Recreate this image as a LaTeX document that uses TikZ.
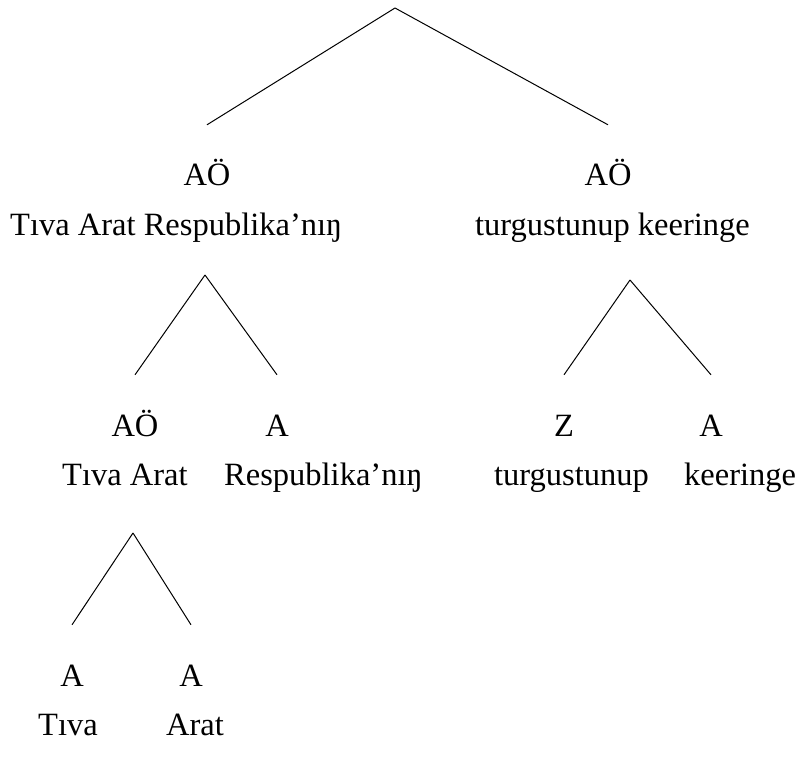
\documentclass[tikz,border=0pt]{standalone}
\usepackage{fontspec}
\setmainfont{Liberation Serif}
\tikzset{
  cat/.style    = {inner sep=0pt, text height=22pt, text depth=0pt, anchor=base},
  word/.style   = {inner sep=0pt, anchor=base west},
  branch/.style = {line width=1pt}
}

\begin{document}
\begin{tikzpicture}[x=1pt, y=-1pt, font=\fontsize{32.5}{39}\selectfont]
  \useasboundingbox (0,0) rectangle (800,767);

  % top split
  \coordinate (top) at (395,8);
  \node[cat]  (aoL) at (207,186) {AÖ};
  \node[word] (wL)  at (10,236)  {Tıva Arat Respublika’nıŋ};
  \node[cat]  (aoR) at (608,186) {AÖ};
  \node[word] (wR)  at (475,236) {turgustunup keeringe};

  % second level
  \coordinate (midL) at (205,275);
  \node[cat]  (aoLL) at (135,436) {AÖ};
  \node[word] (wLL)  at (62,485)  {Tıva Arat};
  \node[cat]  (aLR)  at (277,436) {A};
  \node[word] (wLR)  at (224,485) {Respublika’nıŋ};
  \coordinate (midR) at (630,280);
  \node[cat]  (zRL)  at (564,436) {Z};
  \node[word] (wRL)  at (494,485) {turgustunup};
  \node[cat]  (aRR)  at (711,436) {A};
  \node[word] (wRR)  at (684,485) {keeringe};

  % third level
  \coordinate (low) at (133,533);
  \node[cat]  (aT) at (72,686)  {A};
  \node[word] (wT) at (38,735)  {Tıva};
  \node[cat]  (aA) at (191,686) {A};
  \node[word] (wA) at (166,735) {Arat};

  \foreach \from/\to in {top/aoL, top/aoR, midL/aoLL, midL/aLR,
                         midR/zRL, midR/aRR, low/aT, low/aA}
    \draw[branch] (\from) -- ([yshift=39pt]\to.north);
\end{tikzpicture}
\end{document}
